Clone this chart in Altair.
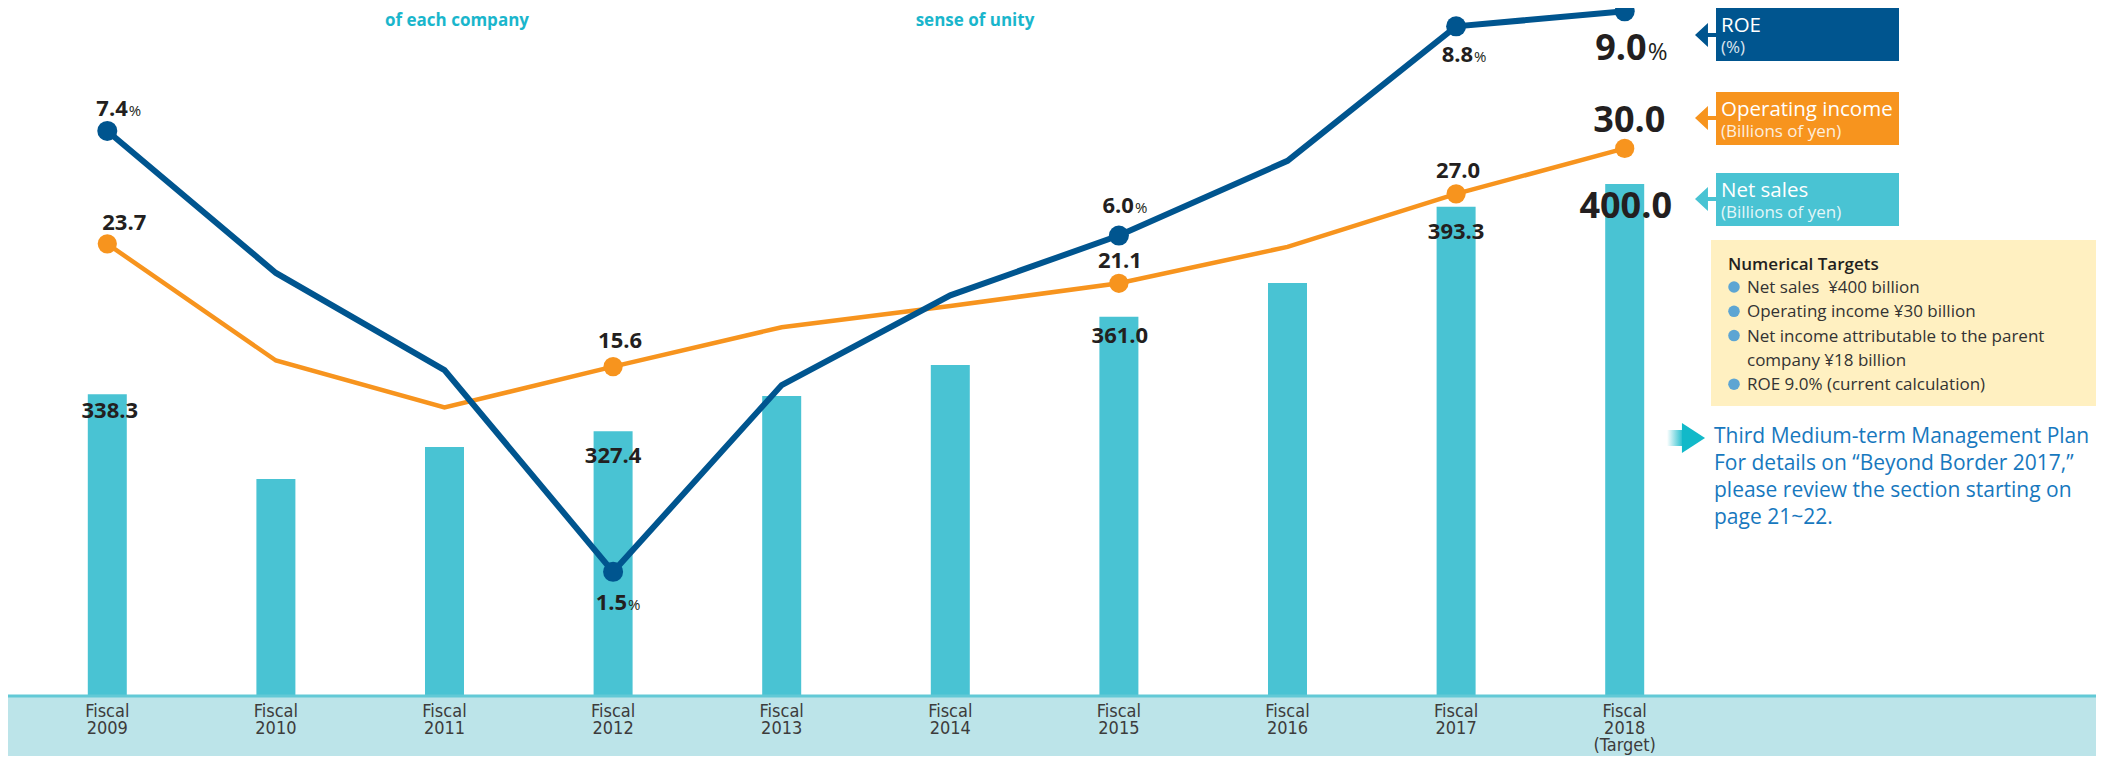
import altair as alt
import pandas as pd

# ---------------- data ----------------
years = ["Fiscal 2009", "Fiscal 2010", "Fiscal 2011", "Fiscal 2012", "Fiscal 2013",
         "Fiscal 2014", "Fiscal 2015", "Fiscal 2016", "Fiscal 2017", "Fiscal 2018 (Target)"]
net_sales = [338.3, 313.4, 322.8, 327.4, 337.8, 346.9, 361.0, 370.9, 393.3, 400.0]
operating_income = [23.7, 16.0, 12.9, 15.6, 18.2, 19.6, 21.1, 23.5, 27.0, 30.0]
roe = [7.4, 5.5, 4.2, 1.5, 4.0, 5.2, 6.0, 7.0, 8.8, 9.0]
marked = [True, False, False, True, False, False, True, False, True, True]

box_roe = ["ROE", "(%)"]
box_oi = ["Operating income", "(Billions of yen)"]
box_sales = ["Net sales", "(Billions of yen)"]
targets_title = "Numerical Targets"
targets_lines = ["Net sales\u00a0 ¥400 billion", "Operating income ¥30 billion",
                 "Net income attributable to the parent", "company ¥18 billion",
                 "ROE 9.0% (current calculation)"]
targets_bullet = [True, True, True, False, True]
plan_lines = ["Third Medium-term Management Plan",
              "For details on \u201cBeyond Border 2017,\u201d",
              "please review the section starting on",
              "page 21~22."]
top_texts = ["of each company", "sense of unity"]

df = pd.DataFrame({"year": years, "sales": net_sales, "oi": operating_income,
                   "roe": roe, "marked": marked})
ann = pd.DataFrame({"k": [0]})

# ---------------- styles ----------------
C_BAR = "#49C3D3"
C_ROE = "#00558F"
C_OI = "#F7941E"
C_TXT = "#231F20"
VF = "Open Sans"
AXF = "Liberation Sans Narrow, DejaVu Sans Condensed, Open Sans"

W, H = 1686, 688
x_scale = alt.Scale(paddingInner=0.7687, paddingOuter=0.3843)
sales_dom = [249.74, 451.62]
sales_scale = alt.Scale(domain=sales_dom, zero=False, nice=False)
roe_scale = alt.Scale(domain=[-0.161, 9.045], zero=False, nice=False)
oi_scale = alt.Scale(domain=[-6.144, 39.269], zero=False, nice=False)

x_axis = alt.Axis(title=None, labelExpr="split(datum.value, ' ')", labelFont=AXF,
                  labelFontSize=18, labelColor="#3C3C3C", labelLineHeight=17,
                  labelPadding=6, ticks=False, tickSize=0, domain=False,
                  labelAngle=0, zindex=1, labelOverlap=False, labelBaseline="top")
X = alt.X("year:N", sort=years, scale=x_scale, axis=x_axis)

base = alt.Chart(df)


def rect(x1, y1, x2, y2, color):
    return alt.Chart(ann).mark_rect(color=color).encode(
        x=alt.value(x1), x2=alt.value(x2), y=alt.value(y1), y2=alt.value(y2))


def txt(s, x, y, size, color, weight="normal", font=VF, align="left", opacity=1):
    return alt.Chart(ann).mark_text(text=s, fontSize=size, color=color, fontWeight=weight,
                                    font=font, align=align, baseline="alphabetic",
                                    opacity=opacity).encode(x=alt.value(x), y=alt.value(y))


def sym(path, x, y, s, color):
    return alt.Chart(ann).mark_point(shape=path, size=s * s, filled=True, color=color,
                                     opacity=1, strokeWidth=0).encode(
        x=alt.value(x), y=alt.value(y))


def vlabel(field, scale, year, dx, dy, size, align="center", fmt=".1f", weight="bold"):
    enc = dict(x=X, y=alt.Y(f"{field}:Q", scale=scale, axis=None))
    if fmt == "%":
        enc["text"] = alt.value("%")
    else:
        enc["text"] = alt.Text(f"{field}:Q", format=fmt)
    return base.transform_filter(alt.datum.year == year).mark_text(
        font=VF, fontWeight=weight, fontSize=size, dx=dx, dy=dy, align=align,
        baseline="alphabetic", color=C_TXT).encode(**enc)


layers = []
# bottom strip
layers.append(rect(-15, H, W + 387, H + 70, "#BCE4E9"))

# bars
layers.append(base.mark_bar(color=C_BAR).encode(
    x=X, y=alt.Y("sales:Q", scale=sales_scale, axis=None), y2=alt.datum(sales_dom[0])))

# baseline rule across the full width
layers.append(rect(-15, H - 1.5, W + 387, H + 1.5, "#62C9D6"))

# lines
layers.append(base.mark_line(color=C_OI, strokeWidth=4.5).encode(
    x=X, y=alt.Y("oi:Q", scale=oi_scale, axis=None)))
layers.append(base.transform_filter(alt.datum.marked).mark_circle(
    size=370, color=C_OI, opacity=1).encode(x=X, y=alt.Y("oi:Q", scale=oi_scale, axis=None)))
layers.append(base.mark_line(color=C_ROE, strokeWidth=6).encode(
    x=X, y=alt.Y("roe:Q", scale=roe_scale, axis=None)))
layers.append(base.transform_filter(alt.datum.marked).mark_circle(
    size=400, color=C_ROE, opacity=1).encode(x=X, y=alt.Y("roe:Q", scale=roe_scale, axis=None)))

# value labels: net sales
for yr, dx, dy, sz in [(years[0], 2.5, 24, 22), (years[3], 0, 32, 22), (years[6], 1, 26, 22),
                       (years[8], 0, 32, 22), (years[9], 1, 34, 36)]:
    layers.append(vlabel("sales", sales_scale, yr, dx, dy, sz))
# operating income
for yr, dx, dy, sz in [(years[0], 17, -14, 22), (years[3], 7, -18.6, 22), (years[6], 1, -15, 22),
                       (years[8], 2, -16, 22), (years[9], 4.6, -16.4, 36)]:
    layers.append(vlabel("oi", oi_scale, yr, dx, dy, sz))
# ROE
for yr, dx, dy, sz, psz in [(years[0], 20.5, -15, 22, 15), (years[3], 14, 38, 22, 15),
                            (years[6], 15, -22.6, 22, 15), (years[8], 17, 36, 22, 15),
                            (years[9], 22, 48.6, 36, 24)]:
    layers.append(vlabel("roe", roe_scale, yr, dx, dy, sz, align="right"))
    layers.append(vlabel("roe", roe_scale, yr, dx + 1, dy, psz, align="left", fmt="%",
                         weight="normal"))

# top headings
layers.append(txt(top_texts[0], 434, 18, 17, "#1AB6CC", weight="bold", align="center"))
layers.append(txt(top_texts[1], 952, 18, 17, "#1AB6CC", weight="bold", align="center"))

# legend boxes with arrows
arrow = "M-1,0L0.08,-1L0.08,-0.17L1,-0.17L1,0.17L0.08,0.17L0.08,1Z"
for (t1, t2), color, y1, y2, ay in [(box_roe, C_ROE, 0, 53, 27),
                                    (box_oi, C_OI, 84, 137, 110),
                                    (box_sales, C_BAR, 165, 218, 191)]:
    layers.append(sym(arrow, 1684, ay, 24, color))
    layers.append(rect(1693, y1, 1876, y2, color))
    layers.append(txt(t1, 1698, y1 + 24, 20.5, "white"))
    layers.append(txt(t2, 1698, y1 + 45, 17, "white", opacity=0.85))

# numerical targets box
layers.append(rect(1688, 232, 2073, 398, "#FFF0C1"))
layers.append(txt(targets_title, 1705, 262, 17, C_TXT, weight=600))
for i, (line, bul) in enumerate(zip(targets_lines, targets_bullet)):
    yb = 285 + i * 24.3
    if bul:
        layers.append(alt.Chart(ann).mark_circle(size=133, color="#5DA5D3", opacity=1).encode(
            x=alt.value(1711), y=alt.value(yb - 6)))
    layers.append(txt(line, 1724, yb, 17, "#333333"))

# plan arrow and text
layers.append(alt.Chart(ann).mark_rect(color=alt.Gradient(
    gradient="linear", x1=0, x2=1, y1=0, y2=0,
    stops=[alt.GradientStop(color="white", offset=0),
           alt.GradientStop(color="#12B9C9", offset=1)])).encode(
    x=alt.value(1644), x2=alt.value(1661), y=alt.value(422), y2=alt.value(438)))
layers.append(sym("M-0.77,-1L0.77,0L-0.77,1Z", 1670.5, 430, 30, "#12B9C9"))
for i, line in enumerate(plan_lines):
    layers.append(txt(line, 1691, 435 + i * 27, 21, "#1778BE"))

chart = alt.layer(*layers).resolve_scale(y="independent").properties(
    width=W, height=H,
    autosize=alt.AutoSizeParams(type="none"),
    padding={"left": 15, "top": 0, "right": 387, "bottom": 60},
    background="white",
).configure_view(strokeWidth=0)

chart.save("out.html", embed_options={"renderer": "svg", "actions": False})
